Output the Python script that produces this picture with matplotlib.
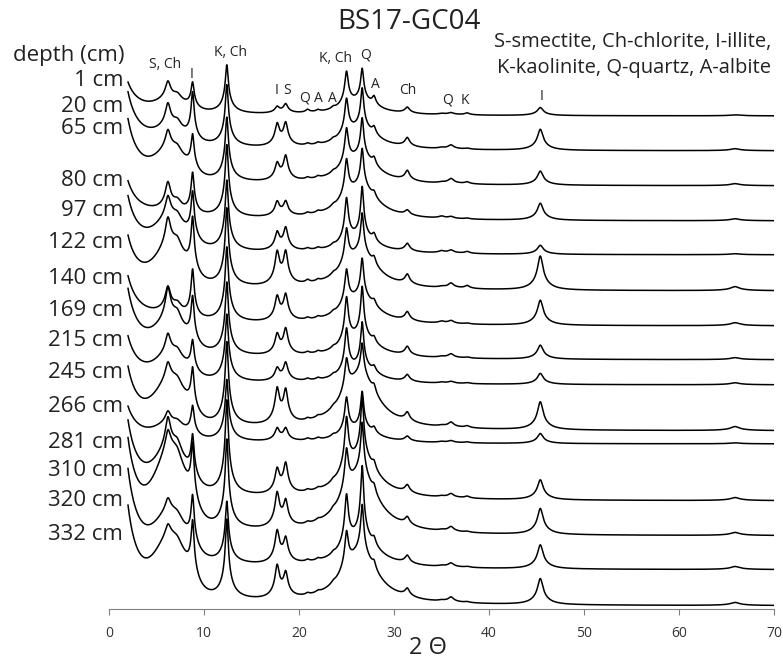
import numpy as np
import matplotlib
matplotlib.use('Agg')
import matplotlib.pyplot as plt

plt.rcParams['font.family'] = ['Open Sans', 'DejaVu Sans']

depths = ['1 cm', '20 cm', '65 cm', '80 cm', '97 cm', '122 cm', '140 cm', '169 cm',
          '215 cm', '245 cm', '266 cm', '281 cm', '310 cm', '320 cm', '332 cm']

# vertical stacking of the patterns (counts, arbitrary)
offsets = [493, 458, 423, 388, 354, 318, 283, 249, 224, 178, 165, 108, 73, 39, 3]

# background: intensity at 2 deg, smectite hump (~6.6 deg), broad hump under 25-27 deg
bg_low = [33, 58, 66, 39, 58, 54, 49, 70, 48, 63, 37, 79, 96, 100, 99]
hump_low = [8, 10, 22, 2, 23, 30, 3, 23, 19, 36, 12, 34, 65, 39, 50]
hump_mid = [12, 19, 25, 30, 14, 33, 25, 19, 14, 51, 12, 39, 56, 28, 47]

# peak heights per sample
s_ch_6 = [19, 25, 21, 27, 24, 31, 25, 34, 22, 20, 13, 33, 23, 15, 14]
s_ch_7 = [7, 9, 7, 9, 8, 11, 9, 12, 8, 7, 5, 12, 8, 5, 5]
ill_9 = [25, 46, 34, 40, 46, 53, 47, 44, 30, 40, 28, 41, 55, 48, 54]
kao_12 = [44, 56, 58, 66, 64, 71, 68, 66, 61, 76, 56, 86, 81, 56, 72]
ill_18 = [6, 21, 16, 14, 17, 31, 23, 19, 12, 33, 12, 23, 33, 31, 31]
sme_19 = [9, 22, 24, 14, 22, 31, 25, 25, 18, 31, 12, 29, 24, 23, 23]
qtz_21 = [3, 2, 2, 2, 2, 3, 2, 2, 2, 2, 2, 2, 2, 2, 2]
alb_22 = [2, 2, 2, 2, 2, 2, 2, 2, 2, 2, 2, 2, 2, 2, 2]
alb_24 = [2, 2, 2, 2, 2, 2, 2, 2, 2, 2, 2, 2, 2, 2, 2]
kao_25 = [34, 36, 37, 38, 44, 36, 36, 46, 44, 33, 36, 52, 43, 51, 37]
qtz_27 = [33, 41, 40, 40, 51, 42, 40, 51, 46, 34, 38, 61, 54, 72, 51]
alb_28 = [9, 8, 8, 6, 8, 8, 6, 6, 6, 8, 6, 8, 8, 8, 8]
chl_31 = [6, 9, 10, 5, 8, 10, 9, 9, 7, 9, 5, 8, 8, 8, 8]
qtz_35 = [1, 1, 1, 2, 2, 1, 2, 1, 1, 1, 1, 1, 1, 1, 1]
qtz_36 = [2, 4, 5, 2, 3, 5, 3, 4, 2, 5, 2, 4, 5, 4, 5]
kao_38 = [2, 1, 2, 1, 2, 3, 1, 1, 1, 2, 1, 2, 1, 1, 1]
ill_45 = [8, 21, 14, 17, 9, 34, 25, 14, 11, 28, 10, 20, 26, 24, 26]
ill_66 = [1, 2, 2, 2, 1, 4, 3, 2, 2, 4, 1, 3, 3, 3, 3]

# (position, half width, heights)
peaks = [
    (6.2, 0.30, s_ch_6), (7.2, 0.45, s_ch_7), (8.8, 0.17, ill_9),
    (12.4, 0.17, kao_12), (17.7, 0.24, ill_18), (18.6, 0.24, sme_19),
    (20.9, 0.2, qtz_21), (22.0, 0.2, alb_22), (23.6, 0.2, alb_24),
    (25.0, 0.2, kao_25), (26.65, 0.17, qtz_27), (27.9, 0.2, alb_28),
    (31.4, 0.25, chl_31), (35.0, 0.3, qtz_35), (36.0, 0.3, qtz_36),
    (37.7, 0.25, kao_38), (45.4, 0.32, ill_45), (65.9, 0.5, ill_66),
]


def lorentz(x, c, w):
    return 1.0 / (1.0 + ((x - c) / w) ** 2)


def profile(x, c, w):
    # sharp top with a wider foot
    return 0.7 * lorentz(x, c, w) + 0.3 * lorentz(x, c, 3 * w)


tt = np.arange(2.0, 70.0, 0.02)

fig = plt.figure(figsize=(7.83, 6.66), dpi=100)
ax = fig.add_axes([109 / 783, 57 / 666, 665 / 783, 609 / 666])

for i in range(len(depths)):
    y = bg_low[i] * (2.0 / tt) ** 1.6
    y += hump_low[i] * np.exp(-0.5 * ((tt - 6.6) / 1.6) ** 2)
    y += hump_mid[i] * lorentz(tt, 26.4, 2.3)
    for c, w, h in peaks:
        y += h[i] * profile(tt, c, w)
    # broad foot of the 7 A kaolinite/chlorite reflection
    y += 0.1 * kao_12[i] * lorentz(tt, 12.4, 1.2)
    ax.plot(tt, offsets[i] + y, color='black', linewidth=1.1)

ax.set_xlim(0, 70)
ax.set_ylim(0, 609)
ax.set_xticks(range(0, 71, 10))
ax.set_yticks([])
for s in ['top', 'left', 'right']:
    ax.spines[s].set_visible(False)
ax.spines['bottom'].set_color('#808080')
ax.tick_params(axis='x', direction='out', length=4, color='#808080',
               labelsize=10, labelcolor='#333333', pad=8)
ax.patch.set_alpha(0)

# sample labels
label_y = [80, 106, 129, 180, 210, 242, 279, 311, 341, 372, 406, 442, 471, 501, 535]
ax.text(1.6, 609 - 55, 'depth (cm)', ha='right', va='center', fontsize=16, color='#222222')
for d, ly in zip(depths, label_y):
    ax.text(1.5, 609 - ly, d, ha='right', va='center', fontsize=16, color='#222222')

# mineral marks
marks = [('S, Ch', 5.95, 544), ('I', 8.74, 535), ('K, Ch', 12.74, 556),
         ('I', 17.6, 519), ('S', 18.75, 519), ('Q', 20.6, 511), ('A', 22.0, 511),
         ('A', 23.5, 511), ('K, Ch', 23.8, 551), ('Q', 27.05, 554), ('A', 28.0, 524),
         ('Ch', 31.5, 519), ('Q', 35.6, 509), ('K', 37.5, 509), ('I', 45.5, 512)]
for t, mx, my in marks:
    ax.text(mx, my, t, ha='center', va='center', fontsize=10, color='#222222')

fig.text(409 / 783, 1 - 22 / 666, 'BS17-GC04', ha='center', va='center',
         fontsize=20, color='#222222')
fig.text(771 / 783, 1 - 42 / 666, 'S-smectite, Ch-chlorite, I-illite,', ha='right',
         va='center', fontsize=14.5, color='#222222')
fig.text(771 / 783, 1 - 68 / 666, 'K-kaolinite, Q-quartz, A-albite', ha='right',
         va='center', fontsize=14.5, color='#222222')
fig.text(428 / 783, 1 - 648 / 666, '2 \u0398', ha='center', va='center',
         fontsize=17, color='#222222')

fig.savefig('out.png', dpi=100)
